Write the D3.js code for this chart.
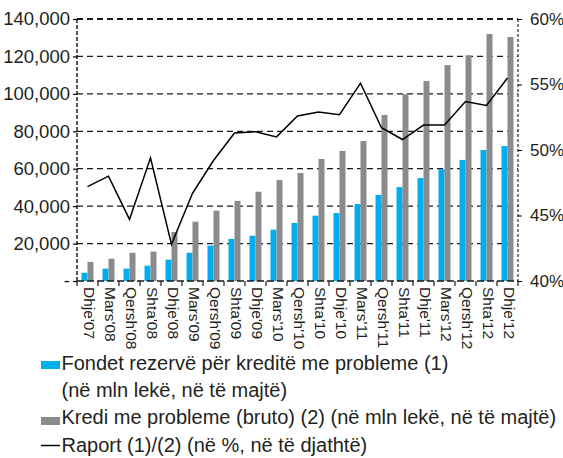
<!DOCTYPE html>
<html>
<head>
<meta charset="utf-8">
<script src="https://cdn.jsdelivr.net/npm/d3@7/dist/d3.min.js"></script>
<style>
  body { margin: 0; background: #fff; }
  svg { display: block; font-family: "Liberation Sans", Arial, sans-serif; }
</style>
</head>
<body>
<div id="chart"></div>
<script>
// categories (quarters)
const CATEGORIES = ["Dhje'07", "Mars'08", "Qersh'08", "Shta'08", "Dhje'08", "Mars'09", "Qersh'09",
  "Shta'09", "Dhje'09", "Mars'10", "Qersh'10", "Shta'10", "Dhje'10", "Mars'11", "Qersh'11",
  "Shta'11", "Dhje'11", "Mars'12", "Qersh'12", "Shta'12", "Dhje'12"];

// (1) reserve funds, mln leke
const RESERVES = [4400, 6600, 6600, 8200, 11400, 15100, 18900, 22500, 24200, 27400, 31000,
  34900, 36300, 41100, 46000, 50200, 55000, 59800, 64700, 70000, 72100];

// (2) non-performing loans (gross), mln leke
const NPL = [10200, 11900, 15100, 15700, 26200, 31700, 37600, 42800, 47700, 54000, 57700,
  65200, 69500, 74800, 88700, 99800, 106900, 115400, 120600, 132000, 130400];

// ratio (1)/(2), %
const RATIO = [47.2, 48.0, 44.7, 49.4, 42.8, 46.7, 49.2, 51.3, 51.4, 51.0, 52.6,
  52.9, 52.7, 55.1, 51.7, 50.8, 51.9, 51.9, 53.7, 53.4, 55.5];

const LEFT_TICKS = [0, 20000, 40000, 60000, 80000, 100000, 120000, 140000];
const RIGHT_TICKS = [40, 45, 50, 55, 60];

const LEGEND_LINES = [
  ["Fondet rezervë për kreditë me probleme (1)", "(në mln lekë, në të majtë)"],
  ["Kredi me probleme (bruto) (2) (në mln lekë, në të majtë)"],
  ["Raport (1)/(2) (në %, në të djathtë)"]
];

document.addEventListener('DOMContentLoaded', () => {
  drawChart();
});

function drawChart() {
  const width = 563, height = 458;
  const margin = { top: 19, right: 45, bottom: 177, left: 77 };
  const blue = "#00adef", grey = "#8b8b8d";
  const ink = "#231f20";

  const svg = d3.select("#chart").append("svg")
    .attr("width", width)
    .attr("height", height);

  const x = d3.scaleBand()
    .domain(CATEGORIES)
    .range([margin.left, width - margin.right])
    .paddingInner(0.43)
    .paddingOuter(0.215);

  const xs = d3.scaleBand()
    .domain(["res", "npl"])
    .range([0, x.bandwidth()]);

  const y = d3.scaleLinear()
    .domain([0, 140000])
    .range([height - margin.bottom, margin.top]);

  const y2 = d3.scaleLinear()
    .domain([40, 60])
    .range([height - margin.bottom, margin.top]);

  const x0 = margin.left, x1 = width - margin.right;

  // gridlines
  svg.append("g")
    .selectAll("line")
    .data(LEFT_TICKS.filter(d => d > 0))
    .join("line")
    .attr("x1", x0).attr("x2", x1)
    .attr("y1", d => y(d)).attr("y2", d => y(d))
    .attr("stroke", "#1a1a1a")
    .attr("stroke-width", d => d === 140000 ? 2 : 1.2)
    .attr("stroke-dasharray", "6,4");

  // bars
  const groups = svg.append("g")
    .selectAll("g")
    .data(CATEGORIES)
    .join("g")
    .attr("transform", d => `translate(${x(d)},0)`);

  groups.append("rect")
    .attr("x", xs("res"))
    .attr("width", xs.bandwidth())
    .attr("y", (d, i) => y(RESERVES[i]))
    .attr("height", (d, i) => y(0) - y(RESERVES[i]))
    .attr("fill", blue);

  groups.append("rect")
    .attr("x", xs("npl"))
    .attr("width", xs.bandwidth())
    .attr("y", (d, i) => y(NPL[i]))
    .attr("height", (d, i) => y(0) - y(NPL[i]))
    .attr("fill", grey);

  // left axis
  const yAxis = g => g
    .attr("transform", `translate(${x0},0)`)
    .call(d3.axisLeft(y).tickValues(LEFT_TICKS).tickSize(4).tickPadding(3)
      .tickFormat(d => d === 0 ? "-" : d3.format(",")(d)))
    .call(g => g.select(".domain")
      .attr("d", `M0,${y(140000)}V${y(0)}`)
      .attr("stroke-dasharray", "4,2")
      .attr("stroke-width", 1.3))
    .call(g => g.selectAll(".tick line").attr("stroke-width", 1.2))
    .call(g => g.selectAll(".tick text")
      .attr("font-size", 18.5).attr("fill", ink)
      .style("font-family", "'Liberation Sans', Arial, sans-serif"));

  svg.append("g").call(yAxis);

  // right axis
  const yAxisR = g => g
    .attr("transform", `translate(${x1},0)`)
    .call(d3.axisRight(y2).tickValues(RIGHT_TICKS).tickSize(4).tickPadding(8)
      .tickFormat(d => d + "%"))
    .call(g => g.select(".domain")
      .attr("d", `M0,${y2(60)}V${y2(40)}`)
      .attr("stroke-dasharray", "3,2").attr("stroke-width", 1))
    .call(g => g.selectAll(".tick text")
      .attr("font-size", 17).attr("fill", ink)
      .style("font-family", "'Liberation Sans', Arial, sans-serif"));

  svg.append("g").call(yAxisR);

  // bottom axis
  const xAxis = g => g
    .attr("transform", `translate(0,${y(0)})`)
    .call(g => g.append("line")
      .attr("x1", x0).attr("x2", x1)
      .attr("stroke", "#1a1a1a")
      .attr("stroke-width", 1.5)
      .attr("stroke-dasharray", "7,3"))
    .call(g => g.selectAll(".sep")
      .data(d3.range(CATEGORIES.length + 1))
      .join("line")
      .attr("class", "sep")
      .attr("x1", i => x0 + i * x.step()).attr("x2", i => x0 + i * x.step())
      .attr("y1", 0).attr("y2", 5)
      .attr("stroke", "#1a1a1a")
      .attr("stroke-width", 1.2))
    .call(g => g.selectAll(".lbl")
      .data(CATEGORIES)
      .join("text")
      .attr("class", "lbl")
      .attr("transform", d => `translate(${x(d) + x.bandwidth() / 2 + 2},6) rotate(90)`)
      .attr("dy", "0.35em")
      .attr("font-size", 15.5)
      .attr("fill", ink)
      .attr("text-anchor", "start")
      .text(d => d));

  svg.append("g").call(xAxis);

  // ratio line
  const line = d3.line()
    .x((d, i) => x(CATEGORIES[i]) + x.bandwidth() / 2)
    .y(d => y2(d));

  svg.append("path")
    .datum(RATIO)
    .attr("fill", "none")
    .attr("stroke", "#000")
    .attr("stroke-width", 1.5)
    .attr("stroke-linejoin", "miter")
    .attr("d", line);

  // legend
  const legend = svg.append("g")
    .attr("font-size", 20)
    .attr("fill", ink);

  const baselines = [[370, 397], [424], [451.5]];

  legend.append("rect")
    .attr("x", 41).attr("y", 361).attr("width", 19).attr("height", 8)
    .attr("fill", blue);
  legend.append("rect")
    .attr("x", 41).attr("y", 417).attr("width", 19).attr("height", 8)
    .attr("fill", grey);
  legend.append("line")
    .attr("x1", 41).attr("x2", 60)
    .attr("y1", 445.5).attr("y2", 445.5)
    .attr("stroke", "#000").attr("stroke-width", 1.5);

  LEGEND_LINES.forEach((lines, k) => {
    lines.forEach((t, j) => {
      legend.append("text")
        .attr("x", 61.5)
        .attr("y", baselines[k][j])
        .text(t);
    });
  });
}
</script>
</body>
</html>
